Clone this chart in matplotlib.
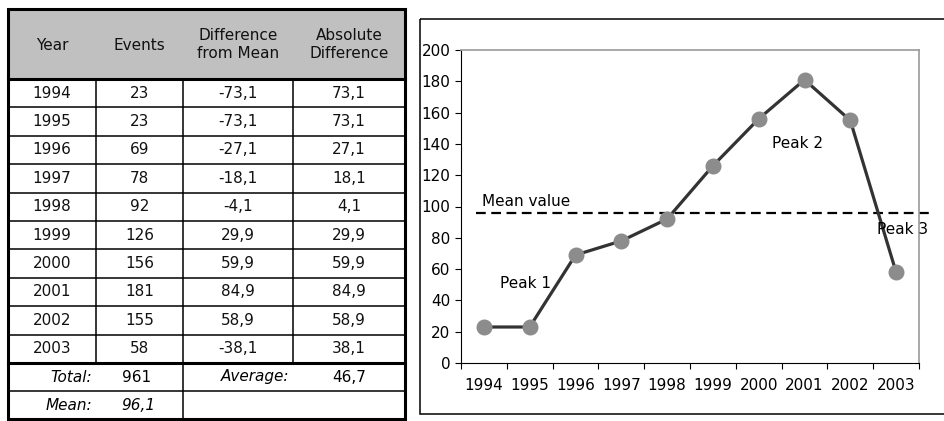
import matplotlib
matplotlib.use("Agg")
import matplotlib.pyplot as plt
from matplotlib.patches import Rectangle
from matplotlib.transforms import blended_transform_factory

plt.rcParams['font.family'] = ['DejaVu Sans']
plt.rcParams['lines.scale_dashes'] = False

# ---- data ----
years = ["1994", "1995", "1996", "1997", "1998", "1999", "2000", "2001", "2002", "2003"]
events = [23, 23, 69, 78, 92, 126, 156, 181, 155, 58]
diff_from_mean = [-73.1, -73.1, -27.1, -18.1, -4.1, 29.9, 59.9, 84.9, 58.9, -38.1]
abs_difference = [73.1, 73.1, 27.1, 18.1, 4.1, 29.9, 59.9, 84.9, 58.9, 38.1]
total_events = 961
mean_events = 96.1
average_abs_diff = 46.7
header = ["Year", "Events", "Difference\nfrom Mean", "Absolute\nDifference"]
y_ticks = [0, 20, 40, 60, 80, 100, 120, 140, 160, 180, 200]


def fmt(v):
    return f"{v:.1f}".replace(".", ",")


W, H = 944, 421
fig = plt.figure(figsize=(W / 100, H / 100), dpi=100)

# ---- table drawn in pixel coordinates ----
tab = fig.add_axes([0, 0, 1, 1])
tab.set_xlim(0, W)
tab.set_ylim(H, 0)
tab.axis("off")

col_x = [8, 96, 183, 293, 405]
top, head_bot = 9, 79
row_h = 28.4
rows_bot = head_bot + row_h * len(years)
total_bot = rows_bot + 28
mean_bot = 419
thick, thin = 2.2, 1.1
fs = 11

tab.add_patch(Rectangle((col_x[0], top), col_x[-1] - col_x[0], head_bot - top,
                        facecolor="#c0c0c0", edgecolor="none", zorder=1))
col_centers = [(col_x[i] + col_x[i + 1]) / 2 for i in range(4)]
for c, h in zip(col_centers, header):
    tab.text(c, (top + head_bot) / 2 + 1, h, ha="center", va="center",
             fontsize=fs, linespacing=1.25, color="#111111", zorder=3)

for i in range(len(years)):
    yc = head_bot + row_h * (i + 0.5)
    vals = [years[i], str(events[i]), fmt(diff_from_mean[i]), fmt(abs_difference[i])]
    for c, v in zip(col_centers, vals):
        tab.text(c, yc, v, ha="center", va="center", fontsize=fs, color="#111111", zorder=3)
    if i > 0:
        y = head_bot + row_h * i
        tab.plot([col_x[0], col_x[-1]], [y, y], color="black", lw=thin, zorder=2)

# vertical separators in the data rows
for x in col_x[1:-1]:
    tab.plot([x, x], [head_bot, rows_bot], color="black", lw=thin, zorder=2)

# summary rows
tab.plot([col_x[0], col_x[-1]], [total_bot, total_bot], color="black", lw=thin, zorder=2)
tab.plot([col_x[2], col_x[2]], [rows_bot, mean_bot], color="black", lw=thin, zorder=2)
yt = (rows_bot + total_bot) / 2
ym = (total_bot + mean_bot) / 2
tab.text(92, yt, "Total:", ha="right", va="center", fontsize=fs, style="italic", zorder=3)
tab.text(col_centers[1] - 3, yt, str(total_events), ha="center", va="center", fontsize=fs, zorder=3)
tab.text(289, yt, "Average:", ha="right", va="center", fontsize=fs, style="italic", zorder=3)
tab.text(col_centers[3], yt, fmt(average_abs_diff), ha="center", va="center", fontsize=fs, zorder=3)
tab.text(92, ym, "Mean:", ha="right", va="center", fontsize=fs, style="italic", zorder=3)
tab.text(col_centers[1] - 1, ym, fmt(mean_events), ha="center", va="center", fontsize=fs,
         style="italic", zorder=3)

# thick rules
tab.plot([col_x[0], col_x[-1]], [head_bot, head_bot], color="black", lw=thick, zorder=4)
tab.plot([col_x[0], col_x[-1]], [rows_bot, rows_bot], color="black", lw=thick, zorder=4)
tab.add_patch(Rectangle((col_x[0], top), col_x[-1] - col_x[0], mean_bot - top,
                        facecolor="none", edgecolor="black", lw=thick, zorder=4))

# chart frame
tab.add_patch(Rectangle((419.5, 19), 560, 414 - 19, facecolor="none",
                        edgecolor="black", lw=1.1, zorder=1))

# ---- line chart ----
x0, x1, y0, y1 = 461, 919, 363, 50
ax = fig.add_axes([x0 / W, 1 - y0 / H, (x1 - x0) / W, (y0 - y1) / H])
ax.patch.set_alpha(0)
xs = list(range(len(years)))
ax.set_xlim(-0.5, len(years) - 0.5)
ax.set_ylim(0, 200)

ax.plot(xs, events, color="#333333", lw=2.3, marker="o", markersize=10.5,
        markerfacecolor="#8c8c8c", markeredgecolor="#8c8c8c", zorder=3, clip_on=False)

# mean line
trans = blended_transform_factory(ax.transAxes, ax.transData)
ax.plot([0.033, 1.032], [mean_events, mean_events], transform=trans, color="black",
        lw=1.6, linestyle=(0, (7, 4)), zorder=2, clip_on=False)

ax.text(-0.05, 103, "Mean value", fontsize=fs, ha="left", va="center", clip_on=False)
ax.text(0.35, 51, "Peak 1", fontsize=fs, ha="left", va="center", clip_on=False)
ax.text(6.29, 140, "Peak 2", fontsize=fs, ha="left", va="center", clip_on=False)
ax.text(8.58, 85.6, "Peak 3", fontsize=fs, ha="left", va="center", clip_on=False)

ax.set_yticks(y_ticks)
ax.set_yticklabels([str(t) for t in y_ticks])
ax.tick_params(axis="y", direction="out", length=4.5, width=0.8, pad=3,
               labelsize=fs, colors="black")
ax.set_xticks([i - 0.5 for i in range(len(years) + 1)])
ax.set_xticklabels([])
ax.set_xticks(xs, minor=True)
ax.set_xticklabels(years, minor=True)
ax.tick_params(axis="x", which="major", direction="out", length=4.5, width=0.8)
ax.tick_params(axis="x", which="minor", length=0, pad=11, labelsize=fs)

for s in ("left", "bottom"):
    ax.spines[s].set_color("black")
    ax.spines[s].set_linewidth(0.8)
for s in ("top", "right"):
    ax.spines[s].set_color("#9a9a9a")
    ax.spines[s].set_linewidth(1.2)

fig.savefig("out.png", dpi=100)
